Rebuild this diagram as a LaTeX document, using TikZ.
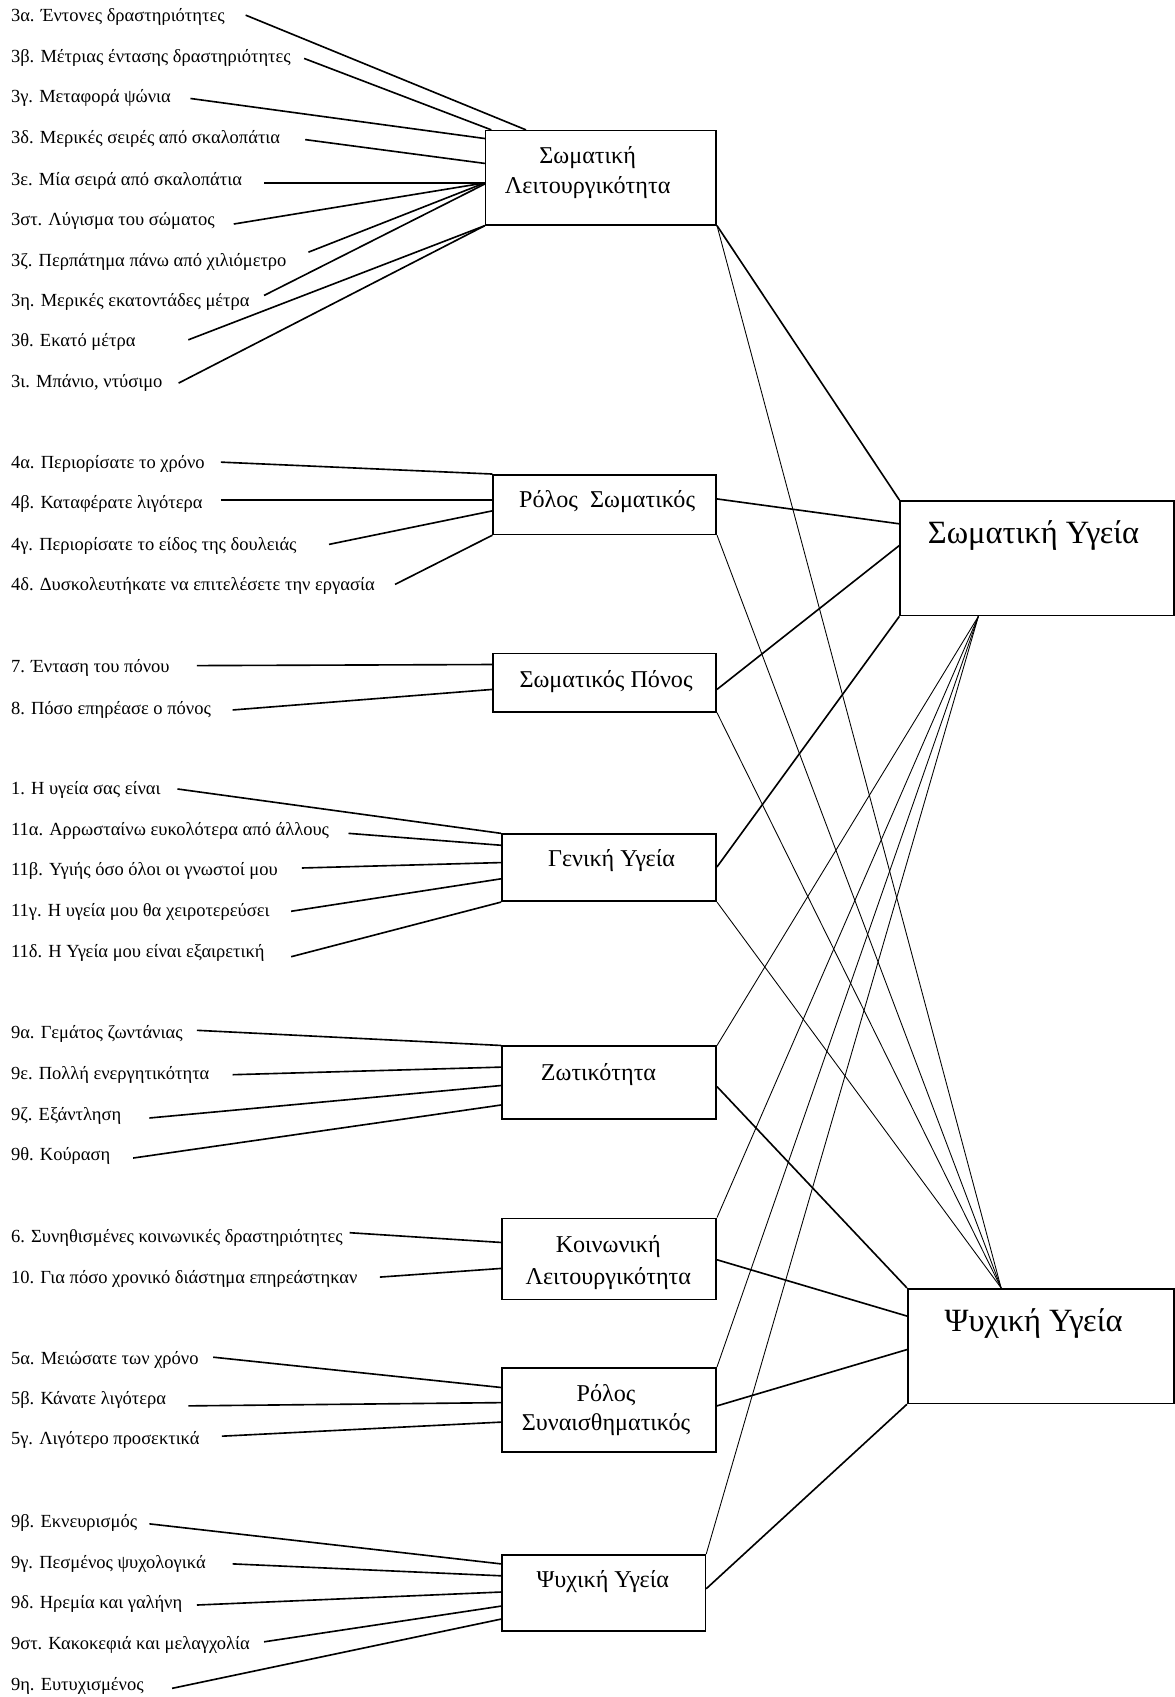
\documentclass[tikz,border=0pt]{standalone}
\usepackage{fontspec}
\setmainfont{Liberation Serif}
\begin{document}
\begin{tikzpicture}[x=1pt,y=-1pt,
  lab/.style={anchor=base west, inner sep=0pt, font=\fontsize{17.1}{20}\selectfont},
  boxtxt/.style={anchor=base, inner sep=0pt, font=\fontsize{22.3}{26}\selectfont},
  bigtxt/.style={anchor=base, inner sep=0pt, font=\fontsize{30}{34}\selectfont},
  box/.style={draw, line width=1.5pt, inner sep=0pt, anchor=north west},
  lc/.style={line width=1.5pt},
  thickc/.style={line width=1.5pt},
  thinc/.style={line width=0.8pt}]
\useasboundingbox (0,0) rectangle (1085,1568);

% ---------- boxes ----------
\node[box, minimum width=213pt, minimum height=87pt] (b1) at (448,120) {};
\node[box, minimum width=206pt, minimum height=55pt] (b2) at (455,438) {};
\node[box, minimum width=206pt, minimum height=54pt] (b3) at (455,603) {};
\node[box, minimum width=198pt, minimum height=62pt] (b4) at (463,770) {};
\node[box, minimum width=198pt, minimum height=67pt] (b5) at (463,966) {};
\node[box, minimum width=198pt, minimum height=75pt] (b6) at (463,1125) {};
\node[box, minimum width=198pt, minimum height=78pt] (b7) at (463,1263) {};
\node[box, minimum width=188pt, minimum height=70pt] (b8) at (463,1436) {};
\node[box, minimum width=253pt, minimum height=106pt] (sh) at (831,462) {};
\node[box, minimum width=246pt, minimum height=106pt] (mh) at (838,1190) {};

% ---------- box texts ----------
\node[boxtxt] (b1ta) at (543,151) {Σωματική};
\node[boxtxt] (b1tb) at (543,179) {Λειτουργικότητα};
\node[boxtxt] (b2t) at (561,469) {Ρόλος\ \ Σωματικός};
\node[boxtxt] (b3t) at (560,635) {Σωματικός Πόνος};
\node[boxtxt] (b4t) at (565,801) {Γενική Υγεία};
\node[boxtxt] (b5t) at (553,998) {Ζωτικότητα};
\node[boxtxt] (b6ta) at (562,1157) {Κοινωνική};
\node[boxtxt] (b6tb) at (562,1187) {Λειτουργικότητα};
\node[boxtxt] (b7ta) at (560,1295) {Ρόλος};
\node[boxtxt] (b7tb) at (560,1322) {Συναισθηματικός};
\node[boxtxt] (b8t) at (557,1467) {Ψυχική Υγεία};
\node[bigtxt] (sht) at (955,502) {Σωματική Υγεία};
\node[bigtxt] (mht) at (955,1230) {Ψυχική Υγεία};

% ---------- item labels ----------
\node[lab] (l3a) at (10,20) {3α. Έντονες δραστηριότητες};
\node[lab] (l3b) at (10,58) {3β. Μέτριας έντασης δραστηριότητες};
\node[lab] (l3c) at (10,95) {3γ. Μεταφορά ψώνια};
\node[lab] (l3d) at (10,133) {3δ. Μερικές σειρές από σκαλοπάτια};
\node[lab] (l3e) at (10,171) {3ε. Μία σειρά από σκαλοπάτια};
\node[lab] (l3st) at (10,208) {3στ. Λύγισμα του σώματος};
\node[lab] (l3z) at (10,246) {3ζ. Περπάτημα πάνω από χιλιόμετρο};
\node[lab] (l3h) at (10,283) {3η. Μερικές εκατοντάδες μέτρα};
\node[lab] (l3th) at (10,320) {3θ. Εκατό μέτρα};
\node[lab] (l3i) at (10,358) {3ι. Μπάνιο, ντύσιμο};

\node[lab] (l4a) at (10,433) {4α. Περιορίσατε το χρόνο};
\node[lab] (l4b) at (10,470) {4β. Καταφέρατε λιγότερα};
\node[lab] (l4c) at (10,509) {4γ. Περιορίσατε το είδος της δουλειάς};
\node[lab] (l4d) at (10,546) {4δ. Δυσκολευτήκατε να επιτελέσετε την εργασία};

\node[lab] (l7) at (10,621) {7. Ένταση του πόνου};
\node[lab] (l8) at (10,660) {8. Πόσο επηρέασε ο πόνος};

\node[lab] (l1) at (10,734) {1. Η υγεία σας είναι};
\node[lab] (l11a) at (10,772) {11α. Αρρωσταίνω ευκολότερα από άλλους};
\node[lab] (l11b) at (10,809) {11β. Υγιής όσο όλοι οι γνωστοί μου};
\node[lab] (l11c) at (10,847) {11γ. Η υγεία μου θα χειροτερεύσει};
\node[lab] (l11d) at (10,885) {11δ. Η Υγεία μου είναι εξαιρετική};

\node[lab] (l9a) at (10,960) {9α. Γεμάτος ζωντάνιας};
\node[lab] (l9e) at (10,997) {9ε. Πολλή ενεργητικότητα};
\node[lab] (l9z) at (10,1035) {9ζ. Εξάντληση};
\node[lab] (l9th) at (10,1072) {9θ. Κούραση};

\node[lab] (l6) at (10,1148) {6. Συνηθισμένες κοινωνικές δραστηριότητες};
\node[lab] (l10) at (10,1186) {10. Για πόσο χρονικό διάστημα επηρεάστηκαν};

\node[lab] (l5a) at (10,1261) {5α. Μειώσατε των χρόνο};
\node[lab] (l5b) at (10,1298) {5β. Κάνατε λιγότερα};
\node[lab] (l5c) at (10,1335) {5γ. Λιγότερο προσεκτικά};

\node[lab] (l9b) at (10,1411) {9β. Εκνευρισμός};
\node[lab] (l9c) at (10,1449) {9γ. Πεσμένος ψυχολογικά};
\node[lab] (l9d) at (10,1486) {9δ. Ηρεμία και γαλήνη};
\node[lab] (l9st) at (10,1524) {9στ. Κακοκεφιά και μελαγχολία};
\node[lab] (l9h) at (10,1562) {9η. Ευτυχισμένος};

% ---------- free ends of item connectors ----------
\coordinate (s3a) at (227,14);
\coordinate (s3b) at (281,54);
\coordinate (s3c) at (176,91);
\coordinate (s3d) at (282,129);
\coordinate (s3e) at (244,169);
\coordinate (s3st) at (216,207);
\coordinate (s3z) at (285,233);
\coordinate (s3h) at (244,273);
\coordinate (s3th) at (174,314);
\coordinate (s3i) at (165,354);
\coordinate (s4a) at (204,427);
\coordinate (s4b) at (204,462);
\coordinate (s4c) at (304,503);
\coordinate (s4d) at (365,540);
\coordinate (s7) at (182,615);
\coordinate (s8) at (215,656);
\coordinate (s1) at (164,729);
\coordinate (s11a) at (322,770);
\coordinate (s11b) at (279,802);
\coordinate (s11c) at (269,842);
\coordinate (s11d) at (269,884);
\coordinate (s9a) at (182,952);
\coordinate (s9e) at (215,993);
\coordinate (s9z) at (138,1033);
\coordinate (s9th) at (123,1070);
\coordinate (s6) at (323,1139);
\coordinate (s10) at (351,1180);
\coordinate (s5a) at (197,1254);
\coordinate (s5b) at (174,1299);
\coordinate (s5c) at (205,1327);
\coordinate (s9b) at (138,1408);
\coordinate (s9c) at (215,1445);
\coordinate (s9d) at (182,1483);
\coordinate (s9st) at (244,1517);
\coordinate (s9h) at (159,1560);

% ---------- item connectors ----------
\draw[lc] (s3a) -- (486,0 |- b1.north);
\draw[lc] (s3b) -- (454,0 |- b1.north);
\draw[lc] (s3c) -- (b1.west |- 0,128);
\draw[lc] (s3d) -- (b1.west |- 0,151);
\draw[lc] (s3e) -- (b1.west |- 0,169);
\draw[lc] (s3st) -- (b1.west |- 0,169);
\draw[lc] (s3z) -- (b1.west |- 0,169);
\draw[lc] (s3h) -- (b1.west |- 0,170);
\draw[lc] (s3th) -- (b1.south west);
\draw[lc] (s3i) -- (b1.south west);

\draw[lc] (s4a) -- (b2.north west);
\draw[lc] (s4b) -- (b2.west |- 0,462);
\draw[lc] (s4c) -- (b2.west |- 0,472);
\draw[lc] (s4d) -- (b2.south west);

\draw[lc] (s7) -- (b3.west |- 0,614);
\draw[lc] (s8) -- (b3.west |- 0,637);

\draw[lc] (s1) -- (b4.north west);
\draw[lc] (s11a) -- (b4.west |- 0,781);
\draw[lc] (s11b) -- (b4.west |- 0,797);
\draw[lc] (s11c) -- (b4.west |- 0,812);
\draw[lc] (s11d) -- (b4.south west);

\draw[lc] (s9a) -- (b5.north west);
\draw[lc] (s9e) -- (b5.west |- 0,986);
\draw[lc] (s9z) -- (b5.west |- 0,1003);
\draw[lc] (s9th) -- (b5.west |- 0,1021);

\draw[lc] (s6) -- (b6.west |- 0,1148);
\draw[lc] (s10) -- (b6.west |- 0,1172);

\draw[lc] (s5a) -- (b7.west |- 0,1282);
\draw[lc] (s5b) -- (b7.west |- 0,1296);
\draw[lc] (s5c) -- (b7.west |- 0,1314);

\draw[lc] (s9b) -- (b8.west |- 0,1445);
\draw[lc] (s9c) -- (b8.west |- 0,1456);
\draw[lc] (s9d) -- (b8.west |- 0,1471);
\draw[lc] (s9st) -- (b8.west |- 0,1484);
\draw[lc] (s9h) -- (b8.west |- 0,1496);

% ---------- thick connectors to the two outcomes ----------
\draw[thickc] (b1.south east) -- (sh.north west);
\draw[thickc] (b2.east |- 0,461) -- (sh.west |- 0,484);
\draw[thickc] (b3.east |- 0,637) -- (sh.west |- 0,504);
\draw[thickc] (b4.east |- 0,801) -- (sh.south west);
\draw[thickc] (b5.east |- 0,1004) -- (mh.north west);
\draw[thickc] (b6.east |- 0,1164) -- (mh.west |- 0,1216);
\draw[thickc] (b7.east |- 0,1299) -- (mh.west |- 0,1247);
\draw[thickc] (b8.east |- 0,1468) -- (mh.south west);

% ---------- thin cross connectors ----------
\coordinate (shb) at (904,568);
\coordinate (mht0) at (925,1190);
\draw[thinc] (b1.south east) -- (mh.north -| mht0);
\draw[thinc] (b2.south east) -- (mh.north -| mht0);
\draw[thinc] (b3.south east) -- (mh.north -| mht0);
\draw[thinc] (b4.south east) -- (mh.north -| mht0);
\draw[thinc] (b5.north east) -- (sh.south -| shb);
\draw[thinc] (b6.north east) -- (sh.south -| shb);
\draw[thinc] (b7.north east) -- (sh.south -| shb);
\draw[thinc] (b8.north east) -- (sh.south -| shb);
\end{tikzpicture}
\end{document}
